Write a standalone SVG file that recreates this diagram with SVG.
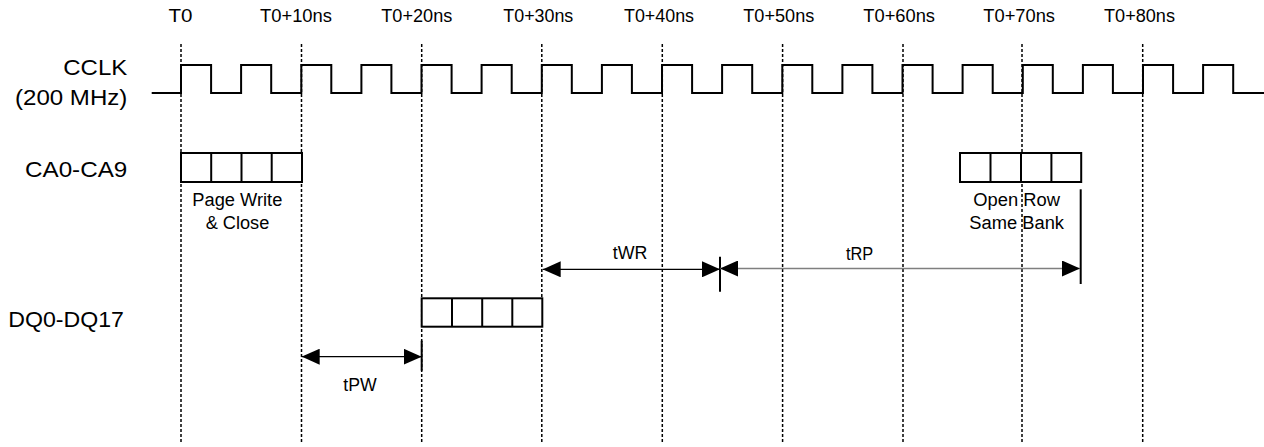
<svg xmlns="http://www.w3.org/2000/svg" width="1264" height="447" viewBox="0 0 1264 447">
<style>
text{font-family:"Liberation Sans",Arial,sans-serif;fill:#000}
.t{font-size:18px}
.sig{font-size:22px}
.grid{stroke:#000;stroke-width:1.5;stroke-dasharray:3 2;fill:none}
.wave{stroke:#000;stroke-width:2;fill:none;stroke-linejoin:miter}
.box{stroke:#000;stroke-width:2;fill:#fff}
.div{stroke:#000;stroke-width:2}
.dim{stroke:#000;stroke-width:1.3;fill:none}
.dimg{stroke:#7f7f7f;stroke-width:1.6;fill:none}
.tick{stroke:#000;stroke-width:2}
</style>
<defs>
<marker id="ah" viewBox="0 0 18 16" refX="18" refY="8" markerWidth="18" markerHeight="16" markerUnits="userSpaceOnUse" orient="auto-start-reverse">
<path d="M0,0 L18,8 L0,16 z" fill="#000"/>
</marker>
</defs>
<rect width="1264" height="447" fill="#fff"/>

<g id="time-labels" class="t">
<text x="168.5" y="22" textLength="24" lengthAdjust="spacingAndGlyphs">T0</text>
<text x="260" y="22" textLength="72" lengthAdjust="spacingAndGlyphs">T0+10ns</text>
<text x="381.3" y="22" textLength="71" lengthAdjust="spacingAndGlyphs">T0+20ns</text>
<text x="503.3" y="22" textLength="70" lengthAdjust="spacingAndGlyphs">T0+30ns</text>
<text x="624" y="22" textLength="70" lengthAdjust="spacingAndGlyphs">T0+40ns</text>
<text x="743.3" y="22" textLength="71" lengthAdjust="spacingAndGlyphs">T0+50ns</text>
<text x="863.3" y="22" textLength="71.7" lengthAdjust="spacingAndGlyphs">T0+60ns</text>
<text x="983.3" y="22" textLength="71.7" lengthAdjust="spacingAndGlyphs">T0+70ns</text>
<text x="1104" y="22" textLength="71" lengthAdjust="spacingAndGlyphs">T0+80ns</text>
</g>

<g id="gridlines">
<line class="grid" x1="181" y1="44" x2="181" y2="444"/>
<line class="grid" x1="301.5" y1="44" x2="301.5" y2="444"/>
<line class="grid" x1="421.7" y1="44" x2="421.7" y2="444"/>
<line class="grid" x1="541.8" y1="44" x2="541.8" y2="444"/>
<line class="grid" x1="662.3" y1="44" x2="662.3" y2="444"/>
<line class="grid" x1="782.6" y1="44" x2="782.6" y2="444"/>
<line class="grid" x1="903" y1="44" x2="903" y2="444"/>
<line class="grid" x1="1022" y1="44" x2="1022" y2="444"/>
<line class="grid" x1="1142.7" y1="44" x2="1142.7" y2="444"/>
</g>

<g id="signal-labels" class="sig">
<text x="63.3" y="75" textLength="64" lengthAdjust="spacingAndGlyphs">CCLK</text>
<text x="15" y="105" textLength="112.3" lengthAdjust="spacingAndGlyphs">(200 MHz)</text>
<text x="25" y="177" textLength="102.3" lengthAdjust="spacingAndGlyphs">CA0-CA9</text>
<text x="8.3" y="327" textLength="115.7" lengthAdjust="spacingAndGlyphs">DQ0-DQ17</text>
</g>

<g id="cclk">
<path class="wave" d="M151.7,93 H181 V65 H211.1 V93 H241.1 V65 H271.2 V93 H301.3 V65 H331.3 V93 H361.4 V65 H391.4 V93 H421.5 V65 H451.6 V93 H481.6 V65 H511.7 V93 H541.8 V65 H571.8 V93 H601.9 V65 H631.9 V93 H662 V65 H692.1 V93 H722.1 V65 H752.2 V93 H782.3 V65 H812.3 V93 H842.4 V65 H872.4 V93 H902.5 V65 H932.6 V93 H962.6 V65 H992.7 V93 H1022.8 V65 H1052.8 V93 H1082.9 V65 H1112.9 V93 H1143 V65 H1173.1 V93 H1203.1 V65 H1233.2 V93 H1264"/>
</g>

<g id="ca-page-write">
<rect class="box" x="181" y="153" width="121" height="29"/>
<line class="div" x1="211.2" y1="153" x2="211.2" y2="182"/>
<line class="div" x1="241.5" y1="153" x2="241.5" y2="182"/>
<line class="div" x1="271.7" y1="153" x2="271.7" y2="182"/>
<text class="t" x="192.3" y="206" textLength="90" lengthAdjust="spacingAndGlyphs">Page Write</text>
<text class="t" x="205.7" y="229.3" textLength="63.6" lengthAdjust="spacingAndGlyphs">&amp; Close</text>
</g>

<g id="ca-open-row">
<rect class="box" x="960" y="153" width="121.2" height="29"/>
<line class="div" x1="990.5" y1="153" x2="990.5" y2="182"/>
<line class="div" x1="1021" y1="153" x2="1021" y2="182"/>
<line class="div" x1="1051.4" y1="153" x2="1051.4" y2="182"/>
<text class="t" x="973.3" y="206" textLength="86.7" lengthAdjust="spacingAndGlyphs">Open Row</text>
<text class="t" x="969.3" y="229" textLength="94.7" lengthAdjust="spacingAndGlyphs">Same Bank</text>
</g>

<g id="dq-data">
<rect class="box" x="421.7" y="298.3" width="120.6" height="28.4"/>
<line class="div" x1="452" y1="298.3" x2="452" y2="326.7"/>
<line class="div" x1="482.2" y1="298.3" x2="482.2" y2="326.7"/>
<line class="div" x1="512.3" y1="298.3" x2="512.3" y2="326.7"/>
</g>

<g id="connectors">
<line class="tick" x1="720" y1="256.7" x2="720" y2="291.7"/>
<line class="tick" x1="1080.7" y1="189.3" x2="1080.7" y2="284"/>
<line class="tick" x1="421.7" y1="340.7" x2="421.7" y2="370.7"/>
<line class="dim" x1="542.7" y1="269.3" x2="720" y2="269.3" marker-start="url(#ah)" marker-end="url(#ah)"/>
<line class="dimg" x1="720" y1="268.5" x2="1080" y2="268.5" marker-start="url(#ah)" marker-end="url(#ah)"/>
<line class="dim" x1="301.7" y1="356.7" x2="421.7" y2="356.7" marker-start="url(#ah)" marker-end="url(#ah)"/>
<text class="t" x="612.7" y="259" textLength="34.6" lengthAdjust="spacingAndGlyphs">tWR</text>
<text class="t" x="846" y="260" textLength="27.3" lengthAdjust="spacingAndGlyphs">tRP</text>
<text class="t" x="343.3" y="391" textLength="33.4" lengthAdjust="spacingAndGlyphs">tPW</text>
</g>
</svg>
